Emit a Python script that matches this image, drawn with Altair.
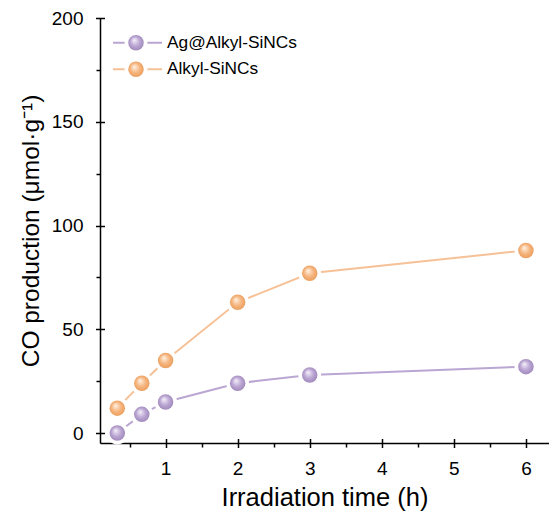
import altair as alt
import pandas as pd

# ---- data ----
time_h = [0.33, 0.67, 1, 2, 3, 6]
ag_alkyl = [0, 9, 15, 24, 28, 32]
alkyl = [12, 24, 35, 63, 77, 88]
series_names = ["Ag@Alkyl-SiNCs", "Alkyl-SiNCs"]
x_major = [1, 2, 3, 4, 5, 6]
x_minor = [0.5, 1.5, 2.5, 3.5, 4.5, 5.5]
y_major = [0, 50, 100, 150, 200]
y_minor = [25, 75, 125, 175]

line_colors = ["#baa6d2", "#f6c197"]
grad_stops = [
    ["#f7f2fb", "#bba6d3", "#9c85b8"],
    ["#fff4e8", "#f6b680", "#e99a58"],
]

FONT = "Liberation Sans"

df = pd.DataFrame({
    "t": time_h * 2,
    "v": ag_alkyl + alkyl,
    "s": [series_names[0]] * len(time_h) + [series_names[1]] * len(time_h),
})


def gradient(stops):
    return {
        "gradient": "radial",
        "x1": 0.38, "y1": 0.32, "r1": 0.0,
        "x2": 0.5, "y2": 0.5, "r2": 0.55,
        "stops": [
            {"offset": 0.0, "color": stops[0]},
            {"offset": 0.55, "color": stops[1]},
            {"offset": 1.0, "color": stops[2]},
        ],
    }


xs = alt.Scale(domain=[0.09, 6.32], nice=False, zero=False)
ys = alt.Scale(domain=[-4.8, 200], nice=False, zero=False)

# axes: domain + minor ticks, crossing major ticks, labels + titles
x_ax_minor = alt.Axis(orient="bottom", values=x_minor, labels=False, title=None,
                      domain=True, domainColor="black", domainWidth=1.5,
                      tickColor="black", tickWidth=1.5, tickSize=4, grid=False)
y_ax_minor = alt.Axis(orient="left", values=y_minor, labels=False, title=None,
                      domain=True, domainColor="black", domainWidth=1.5,
                      tickColor="black", tickWidth=1.5, tickSize=4, grid=False)
x_ax_major = alt.Axis(orient="bottom", values=x_major, labels=False, title=None,
                      domain=False, tickColor="black", tickWidth=1.5, tickSize=9,
                      offset=-4.5, grid=False)
y_ax_major = alt.Axis(orient="left", values=y_major, labels=False, title=None,
                      domain=False, tickColor="black", tickWidth=1.5, tickSize=9,
                      offset=-4.5, grid=False)
x_ax_lab = alt.Axis(orient="bottom", values=x_major, ticks=False, domain=False, grid=False,
                    labelFont=FONT, labelFontSize=19, labelColor="black", labelPadding=16,
                    title="Irradiation time (h)", titleFont=FONT, titleFontSize=25.5,
                    titleFontWeight="normal", titleColor="black", titlePadding=7)
y_ax_lab = alt.Axis(orient="left", values=y_major, ticks=False, domain=False, grid=False,
                    labelFont=FONT, labelFontSize=19, labelColor="black", labelPadding=17,
                    title="CO production (μmol·g⁻¹)", titleFont=FONT, titleFontSize=24.5,
                    titleFontWeight="normal", titleColor="black", titlePadding=8)

base = alt.Chart(df)

lines = base.mark_line(strokeWidth=2).encode(
    x=alt.X("t:Q", scale=xs, axis=x_ax_minor),
    y=alt.Y("v:Q", scale=ys, axis=y_ax_minor),
    color=alt.Color("s:N", scale=alt.Scale(domain=series_names, range=line_colors), legend=None),
)

gaps = base.mark_circle(size=520, color="white", opacity=1).encode(
    x=alt.X("t:Q", scale=xs, axis=x_ax_major),
    y=alt.Y("v:Q", scale=ys, axis=y_ax_major),
)

markers = []
for i, name in enumerate(series_names):
    markers.append(
        base.transform_filter(alt.datum.s == name)
        .mark_circle(size=240, opacity=1, color=gradient(grad_stops[i]))
        .encode(
            x=alt.X("t:Q", scale=xs, axis=x_ax_lab if i == 0 else None),
            y=alt.Y("v:Q", scale=ys, axis=y_ax_lab if i == 0 else None),
        )
    )

# ---- legend (top-left) ----
legend_layers = []
legend_y = [24.7, 51.3]
for i, name in enumerate(series_names):
    ldf = alt.Chart(pd.DataFrame({"label": [name]}))
    yy = legend_y[i]
    legend_layers.append(
        ldf.mark_rule(color=line_colors[i], strokeWidth=2).encode(
            x=alt.value(13), x2=alt.value(62), y=alt.value(yy))
    )
    legend_layers.append(
        ldf.mark_circle(size=520, color="white", opacity=1).encode(
            x=alt.value(36), y=alt.value(yy))
    )
    legend_layers.append(
        ldf.mark_circle(size=240, opacity=1, color=gradient(grad_stops[i])).encode(
            x=alt.value(36), y=alt.value(yy))
    )
    legend_layers.append(
        ldf.mark_text(align="left", baseline="middle", font=FONT, fontSize=17.3, color="black").encode(
            x=alt.value(67), y=alt.value(yy), text="label:N")
    )

chart = alt.layer(lines, gaps, *markers, *legend_layers).resolve_axis(
    x="independent", y="independent"
).properties(
    width=449,
    height=425,
    autosize=alt.AutoSizeParams(type="none"),
    padding={"left": 92, "top": 10, "right": 0, "bottom": 71},
).configure_view(stroke=None)

chart.save("out.html", embed_options={"renderer": "svg", "actions": False})
